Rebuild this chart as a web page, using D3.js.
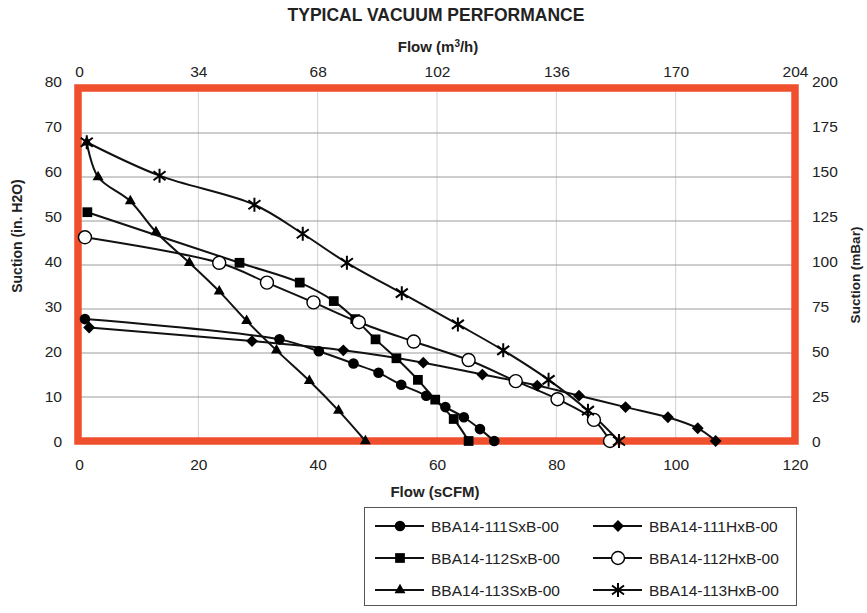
<!DOCTYPE html>
<html>
<head>
<meta charset="utf-8">
<script src="https://cdn.jsdelivr.net/npm/d3@7"></script>
<style>
  body { margin: 0; background: #fff; }
  text { font-family: "Liberation Sans", Arial, sans-serif; fill: #222; }
</style>
</head>
<body>
<div id="chart"></div>
<script>
// ---- data ----
const seriesNames = ["BBA14-111SxB-00", "BBA14-111HxB-00", "BBA14-112SxB-00",
                     "BBA14-112HxB-00", "BBA14-113SxB-00", "BBA14-113HxB-00"];
const markerTypes = ["circle", "diamond", "square", "open", "triangle", "star"];

// flow in sCFM / suction in in. H2O
const flow111S = [1.0, 33.6, 40.2, 46.0, 50.2, 54.0, 58.2, 61.4, 64.5, 67.2, 69.6];
const suct111S = [27.7, 23.1, 20.4, 17.6, 15.5, 12.8, 10.3, 7.7, 5.4, 2.7, 0];
const flow111H = [1.7, 29.0, 44.3, 57.7, 67.6, 76.8, 83.8, 91.6, 98.7, 103.7, 106.7];
const suct111H = [25.8, 22.7, 20.6, 17.8, 15.1, 12.6, 10.3, 7.7, 5.4, 2.9, 0];
const flow112S = [1.4, 26.9, 37.0, 42.7, 46.3, 49.7, 53.2, 56.8, 59.7, 62.8, 65.3];
const suct112S = [52.0, 40.5, 36.0, 31.8, 27.7, 23.1, 18.8, 13.9, 9.4, 5.0, 0];
const flow112H = [1.0, 23.5, 31.5, 39.3, 46.9, 56.1, 65.3, 73.2, 80.2, 86.3, 89.0];
const suct112H = [46.3, 40.5, 36.0, 31.5, 27.0, 22.6, 18.4, 13.6, 9.5, 4.8, 0];
const flow113S = [1.3, 3.2, 8.6, 12.9, 18.5, 23.5, 28.1, 33.1, 38.6, 43.5, 48.0];
const suct113S = [67.9, 60.0, 54.5, 47.5, 40.5, 34.0, 27.3, 20.6, 13.7, 6.9, 0];
const flow113H = [1.3, 13.5, 29.4, 37.5, 44.9, 54.1, 63.5, 71.1, 78.7, 85.3, 90.5];
const suct113H = [67.9, 60.3, 53.7, 47.1, 40.5, 33.6, 26.5, 20.6, 13.9, 6.9, 0];

const flowTicks = [0, 20, 40, 60, 80, 100, 120];
const flowM3Ticks = [0, 34, 68, 102, 136, 170, 204];
const suctionTicks = [0, 10, 20, 30, 40, 50, 60, 70, 80];
const mbarTicks = [0, 25, 50, 75, 100, 125, 150, 175, 200];

const flows = [flow111S, flow111H, flow112S, flow112H, flow113S, flow113H];
const suctions = [suct111S, suct111H, suct112S, suct112H, suct113S, suct113H];

// ---- setup ----
const width = 867, height = 613;
const svg = d3.select("#chart").append("svg")
    .attr("width", width).attr("height", height);

const x = d3.scaleLinear().domain([0, 120]).range([79, 795]);
const xTop = d3.scaleLinear().domain([0, 204]).range([79, 795]);
const y = d3.scaleLinear().domain([0, 80]).range([441, 89]);
// tick labels in the original sit on a slightly taller span than the grid
const yLbl = d3.scaleLinear().domain([0, 80]).range([442, 82]);
const yRight = d3.scaleLinear().domain([0, 200]).range([442, 82]);

// gridlines
svg.append("g").selectAll("line")
  .data(flowTicks.slice(1, -1))
  .join("line")
    .attr("x1", d => x(d)).attr("x2", d => x(d))
    .attr("y1", y(80)).attr("y2", y(0))
    .attr("stroke", "#d2d2d2").attr("stroke-width", 1);

svg.append("g").selectAll("line")
  .data(suctionTicks.slice(1, -1))
  .join("line")
    .attr("x1", x(0)).attr("x2", x(120))
    .attr("y1", d => y(d)).attr("y2", d => y(d))
    .attr("stroke", "#9a9a9a").attr("stroke-width", 1);

// red frame around plot area (markers are drawn over it)
svg.append("rect")
  .attr("x", x(0) - 1).attr("y", y(80) - 1)
  .attr("width", x(120) - x(0) + 1).attr("height", y(0) - y(80) + 1)
  .attr("fill", "none").attr("stroke", "#ef4f2d").attr("stroke-width", 7.5);

// axes (labels only)
function styleAxis(g) {
  g.select(".domain").remove();
  g.selectAll("text").style("font-size", "15.5px").attr("fill", "#222");
}
svg.append("g").attr("transform", "translate(79,0)")
  .call(d3.axisLeft(yLbl).tickValues(suctionTicks).tickSize(0).tickPadding(17))
  .call(styleAxis);
svg.append("g").attr("transform", "translate(795,0)")
  .call(d3.axisRight(yRight).tickValues(mbarTicks).tickSize(0).tickPadding(17))
  .call(styleAxis);
svg.append("g").attr("transform", "translate(0,441)")
  .call(d3.axisBottom(x).tickValues(flowTicks).tickSize(0).tickPadding(18))
  .call(styleAxis);
svg.append("g").attr("transform", "translate(0,89)")
  .call(d3.axisTop(xTop).tickValues(flowM3Ticks).tickSize(0).tickPadding(12))
  .call(styleAxis);

// titles
svg.append("text").attr("x", 436).attr("y", 21).attr("text-anchor", "middle")
  .style("font-size", "17.5px").style("font-weight", "bold")
  .text("TYPICAL VACUUM PERFORMANCE");
const topTitle = svg.append("text").attr("x", 438).attr("y", 52).attr("text-anchor", "middle")
  .style("font-size", "15px").style("font-weight", "bold");
topTitle.append("tspan").text("Flow (m");
topTitle.append("tspan").attr("dy", -5).style("font-size", "10px").text("3");
topTitle.append("tspan").attr("dy", 5).text("/h)");
svg.append("text").attr("x", 435).attr("y", 497).attr("text-anchor", "middle")
  .style("font-size", "15px").style("font-weight", "bold").text("Flow (sCFM)");
svg.append("text").attr("transform", "translate(22,236) rotate(-90)")
  .attr("text-anchor", "middle").style("font-size", "14px").style("font-weight", "bold")
  .text("Suction (in. H2O)");
svg.append("text").attr("transform", "translate(860,275) rotate(-90)")
  .attr("text-anchor", "middle").style("font-size", "13.5px").style("font-weight", "bold")
  .text("Suction (mBar)");

// series lines
const line = d3.line()
  .x(d => x(d[0])).y(d => y(d[1]))
  .curve(d3.curveCatmullRom.alpha(0.5));

const seriesData = seriesNames.map((name, i) => ({
  name: name,
  marker: markerTypes[i],
  points: flows[i].map((f, j) => [f, suctions[i][j]])
}));

svg.append("g").selectAll("path")
  .data(seriesData)
  .join("path")
    .attr("d", d => line(d.points))
    .attr("fill", "none").attr("stroke", "#111").attr("stroke-width", 2);

// markers
function drawMarker(g, type) {
  if (type === "circle") {
    g.append("circle").attr("r", 5.3).attr("fill", "#000");
  } else if (type === "square") {
    g.append("path").attr("d", d3.symbol(d3.symbolSquare, 95)()).attr("fill", "#000");
  } else if (type === "diamond") {
    g.append("path").attr("d", d3.symbol(d3.symbolSquare, 70)())
      .attr("transform", "rotate(45)").attr("fill", "#000");
  } else if (type === "triangle") {
    g.append("path").attr("d", d3.symbol(d3.symbolTriangle, 52)()).attr("fill", "#000");
  } else if (type === "open") {
    g.append("circle").attr("r", 6.5).attr("fill", "#fff")
      .attr("stroke", "#000").attr("stroke-width", 1.4);
  } else if (type === "star") {
    g.append("path").attr("d", "M0,-7L0,7M-6,-4.5L6,4.5M-6,4.5L6,-4.5")
      .attr("stroke", "#000").attr("stroke-width", 2).attr("fill", "none");
  }
}

seriesData.forEach(s => {
  svg.append("g").selectAll("g")
    .data(s.points)
    .join("g")
      .attr("transform", d => `translate(${x(d[0])},${y(d[1])})`)
      .each(function() { drawMarker(d3.select(this), s.marker); });
});

// legend
const legend = svg.append("g");
legend.append("rect").attr("x", 364.5).attr("y", 507.5).attr("width", 432).attr("height", 98)
  .attr("fill", "#fff").attr("stroke", "#555").attr("stroke-width", 1);

seriesData.forEach((s, i) => {
  const col = i % 2, row = Math.floor(i / 2);
  const lx = col === 0 ? 375 : 593;
  const ly = 526 + row * 32;
  const item = legend.append("g").attr("transform", `translate(${lx},${ly})`);
  item.append("line").attr("x1", 0).attr("x2", 49).attr("y1", 0).attr("y2", 0)
    .attr("stroke", "#111").attr("stroke-width", 2);
  drawMarker(item.append("g").attr("transform", "translate(25,0)"), s.marker);
  item.append("text").attr("x", 56).attr("y", 5.5)
    .style("font-size", "15.5px").text(s.name);
});
</script>
</body>
</html>
